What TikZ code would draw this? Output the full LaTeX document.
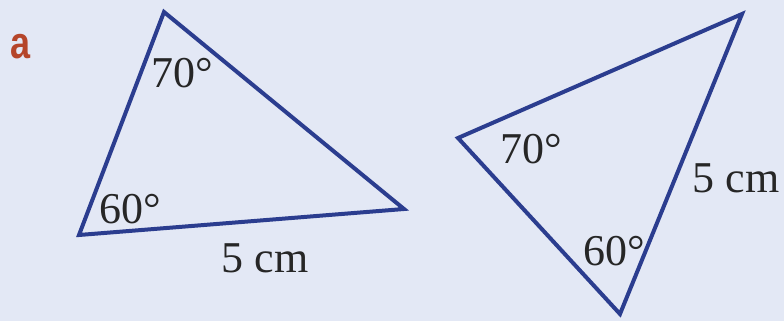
\documentclass[tikz,border=0pt]{standalone}
\usepackage{fontspec}
\setmainfont{Liberation Serif}
\newfontfamily\labfont{Liberation Sans}
\definecolor{bgc}{HTML}{E3E8F5}
\definecolor{linec}{HTML}{2B3D8F}
\definecolor{labc}{HTML}{B5452A}
\begin{document}
\begin{tikzpicture}[x=1pt,y=-1pt,
  tri/.style={draw=linec,line width=4pt,line join=miter},
  lbl/.style={anchor=base,inner sep=0pt,font=\fontsize{44}{50}\selectfont,text=black!85}]
\fill[bgc] (0,0) rectangle (784,321);
\useasboundingbox (0,0) rectangle (784,321);
\node[anchor=base,inner sep=0pt,text=labc,font=\labfont\bfseries\fontsize{45}{50}\selectfont] (lab) at (21,59) {\scalebox{0.8}[1]{a}};
% triangle 1
\coordinate (A1) at (164,12);
\coordinate (B1) at (79,235);
\coordinate (C1) at (404,209);
\draw[tri] (A1) -- (B1) -- (C1) -- cycle;
\node[lbl] (t1a) at (182,87) {70°};
\node[lbl] (t1b) at (130,223) {60°};
\node[lbl] (t1c) at (265,272) {5 cm};
% triangle 2
\coordinate (A2) at (458,138);
\coordinate (B2) at (742,14);
\coordinate (C2) at (620,314);
\draw[tri] (A2) -- (B2) -- (C2) -- cycle;
\node[lbl] (t2a) at (531,163) {70°};
\node[lbl] (t2b) at (614,265) {60°};
\node[lbl] (t2c) at (736,192) {5 cm};
\end{tikzpicture}
\end{document}
